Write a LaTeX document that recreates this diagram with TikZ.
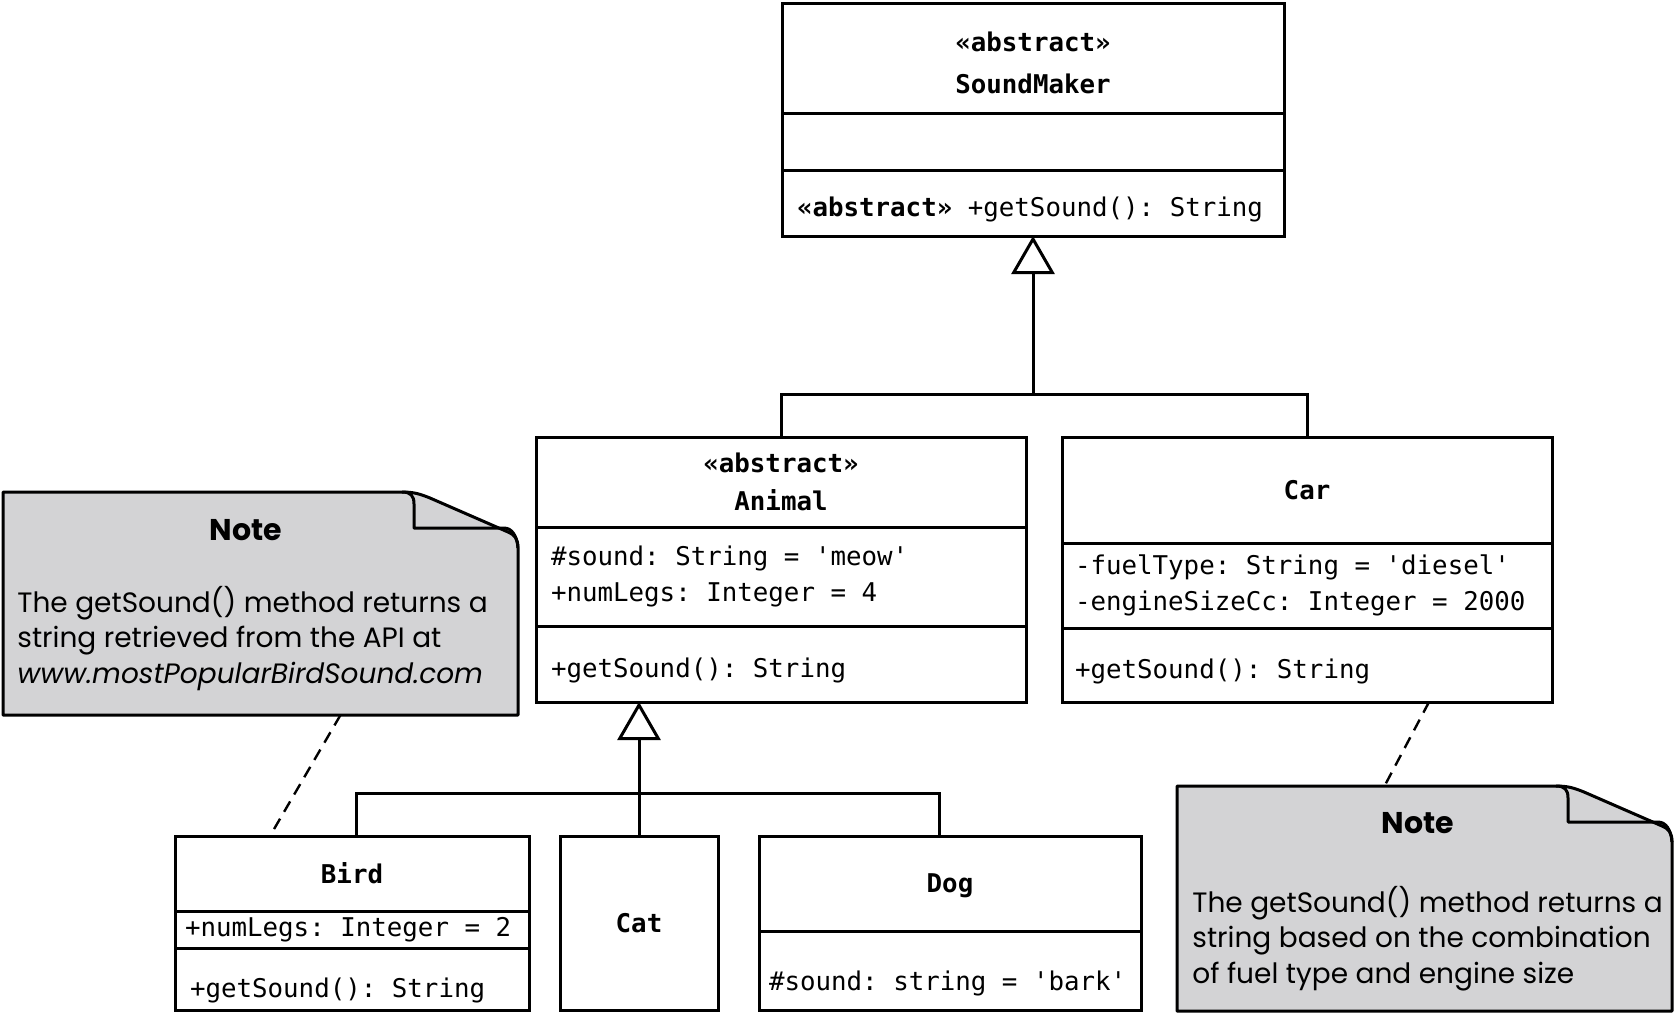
\documentclass[tikz,border=0pt]{standalone}
\usepackage{fontspec}
\setmonofont{DejaVu Sans Mono}
\newfontfamily\notefont{Poppins}
\usepackage{tikz}
\usetikzlibrary{arrows.meta}
\definecolor{notegray}{RGB}{211,211,213}

\begin{document}
\begin{tikzpicture}[x=0.5pt,y=-0.5pt,
  cmp/.style={draw,line width=1.5pt,inner xsep=2pt,inner ysep=0pt,outer sep=0pt,align=center,
    font=\ttfamily\fontsize{12.9}{18}\selectfont},
  lcmp/.style={cmp,align=flush left},
  gen/.style={line width=1.5pt},
  inh/.style={gen,-{Triangle[open,length=19pt,width=21.5pt]}},
  noteline/.style={line width=1.2pt,dash pattern=on 6pt off 4pt},
  notebox/.style={rectangle,inner sep=0pt,outer sep=0pt},
  notepaper/.style={draw,fill=notegray,line width=1.5pt,line join=round},
  notetitle/.style={inner sep=0pt,font=\notefont\bfseries\fontsize{15}{17}\selectfont},
  notetext/.style={inner sep=0pt,align=flush left,font=\notefont\fontsize{14}{17.75}\selectfont}]

\useasboundingbox (0,0) rectangle (1675,1013);

% SoundMaker
\node[cmp,minimum width=251pt,minimum height=55pt] (smName) at (1033,58) {\rule{0pt}{15pt}\textbf{«abstract»}\\[3pt]\textbf{SoundMaker}};
\node[cmp,minimum width=251pt,minimum height=28.5pt] (smAttr) at (1033,141.5) {};
\node[lcmp,minimum width=251pt,minimum height=33pt,text width=236pt,text height=16pt] (smOps) at (1033,203) {\textbf{«abstract»} +getSound(): String};

% Animal
\node[cmp,minimum width=245pt,minimum height=45pt] (animalName) at (781,482) {\textbf{«abstract»}\\[1pt]\textbf{Animal}};
\node[lcmp,minimum width=245pt,minimum height=49.5pt,text width=230pt] (animalAttr) at (781,576.5) {\#sound: String = 'meow'\\+numLegs: Integer = 4};
\node[lcmp,minimum width=245pt,minimum height=38pt,text width=230pt,text height=16pt] (animalOps) at (781,664) {+getSound(): String};

% Car
\node[cmp,minimum width=245pt,minimum height=53pt] (carName) at (1307,490) {\textbf{Car}};
\node[lcmp,minimum width=245pt,minimum height=42.5pt,text width=232pt] (carAttr) at (1307,585.5) {-fuelType: String = 'diesel'\\-engineSizeCc: Integer = 2000};
\node[lcmp,minimum width=245pt,minimum height=37pt,text width=232pt,text height=16pt] (carOps) at (1307,665) {+getSound(): String};

% Bird, Cat, Dog
\node[cmp,minimum width=177pt,minimum height=37.5pt] (birdName) at (352,873.5) {\textbf{Bird}};
\node[lcmp,minimum width=177pt,minimum height=18.5pt,text width=167pt] (birdAttr) at (352,929.5) {+numLegs: Integer = 2};
\node[lcmp,minimum width=177pt,minimum height=31pt,text width=162pt,text height=21pt] (birdOps) at (352,979) {+getSound(): String};
\node[cmp,minimum width=79pt,minimum height=87pt] (catName) at (639,923) {\textbf{Cat}};
\node[cmp,minimum width=191pt,minimum height=47.5pt,text depth=0pt] (dogName) at (950,883.5) {\textbf{Dog}};
\node[lcmp,minimum width=191pt,minimum height=39.5pt,text width=181pt,text height=22.5pt] (dogAttr) at (950,970.5) {\#sound: string = 'bark'};

% generalisation
\coordinate (smJoin) at (1033,394);
\coordinate (animalJoin) at (639,793);
\draw[gen] (animalName.north) |- (smJoin) -| (carName.north);
\draw[inh] (smJoin) -- (smOps.south);
\draw[gen] ([xshift=2pt]birdName.north) |- (animalJoin) -| ([xshift=-5.5pt]dogName.north);
\draw[gen] (catName.north) -- (animalJoin);
\draw[inh] (animalJoin) -- (animalJoin |- animalOps.south);

% notes
\node[notebox,minimum width=257.5pt,minimum height=111.5pt] (note1) at (260.5,603.5) {};
\node[notebox,minimum width=247.5pt,minimum height=112.5pt] (note2) at (1424.5,898.5) {};
\foreach \n in {note1,note2}{
  \begin{scope}[shift={(\n.north east)}]
    \filldraw[notepaper] (\n.south west) -- (\n.north west) -- (-116,0)
      .. controls (-104,0) and (-98,2) .. (-88,6) -- (-10,40)
      .. controls (-3,43) and (0,47) .. (0,56) -- (\n.south east) -- cycle;
    \draw[notepaper,fill=none] (-116,0) .. controls (-107,0) and (-104,4) .. (-104,12)
      -- (-104,36) -- (-14,36) .. controls (-6,36) and (-1,44) .. (0,56);
  \end{scope}
}
\node[notetitle,anchor=base] (note1title) at (246,540) {Note};
\node[notetext,anchor=base west] (note1text) at (17,683) {The getSound() method returns a\\string retrieved from the API at\\\textit{www.mostPopularBirdSound.com}};
\node[notetitle,anchor=base] (note2title) at (1418,833) {Note};
\node[notetext,anchor=base west] (note2text) at (1192,983) {The getSound() method returns a\\string based on the combination\\of fuel type and engine size};

\draw[noteline] ([xshift=40pt]note1.south) -- ([xshift=-41pt]birdName.north);
\draw[noteline] ([xshift=61pt]carOps.south) -- ([xshift=-20pt]note2.north);
\end{tikzpicture}
\end{document}
